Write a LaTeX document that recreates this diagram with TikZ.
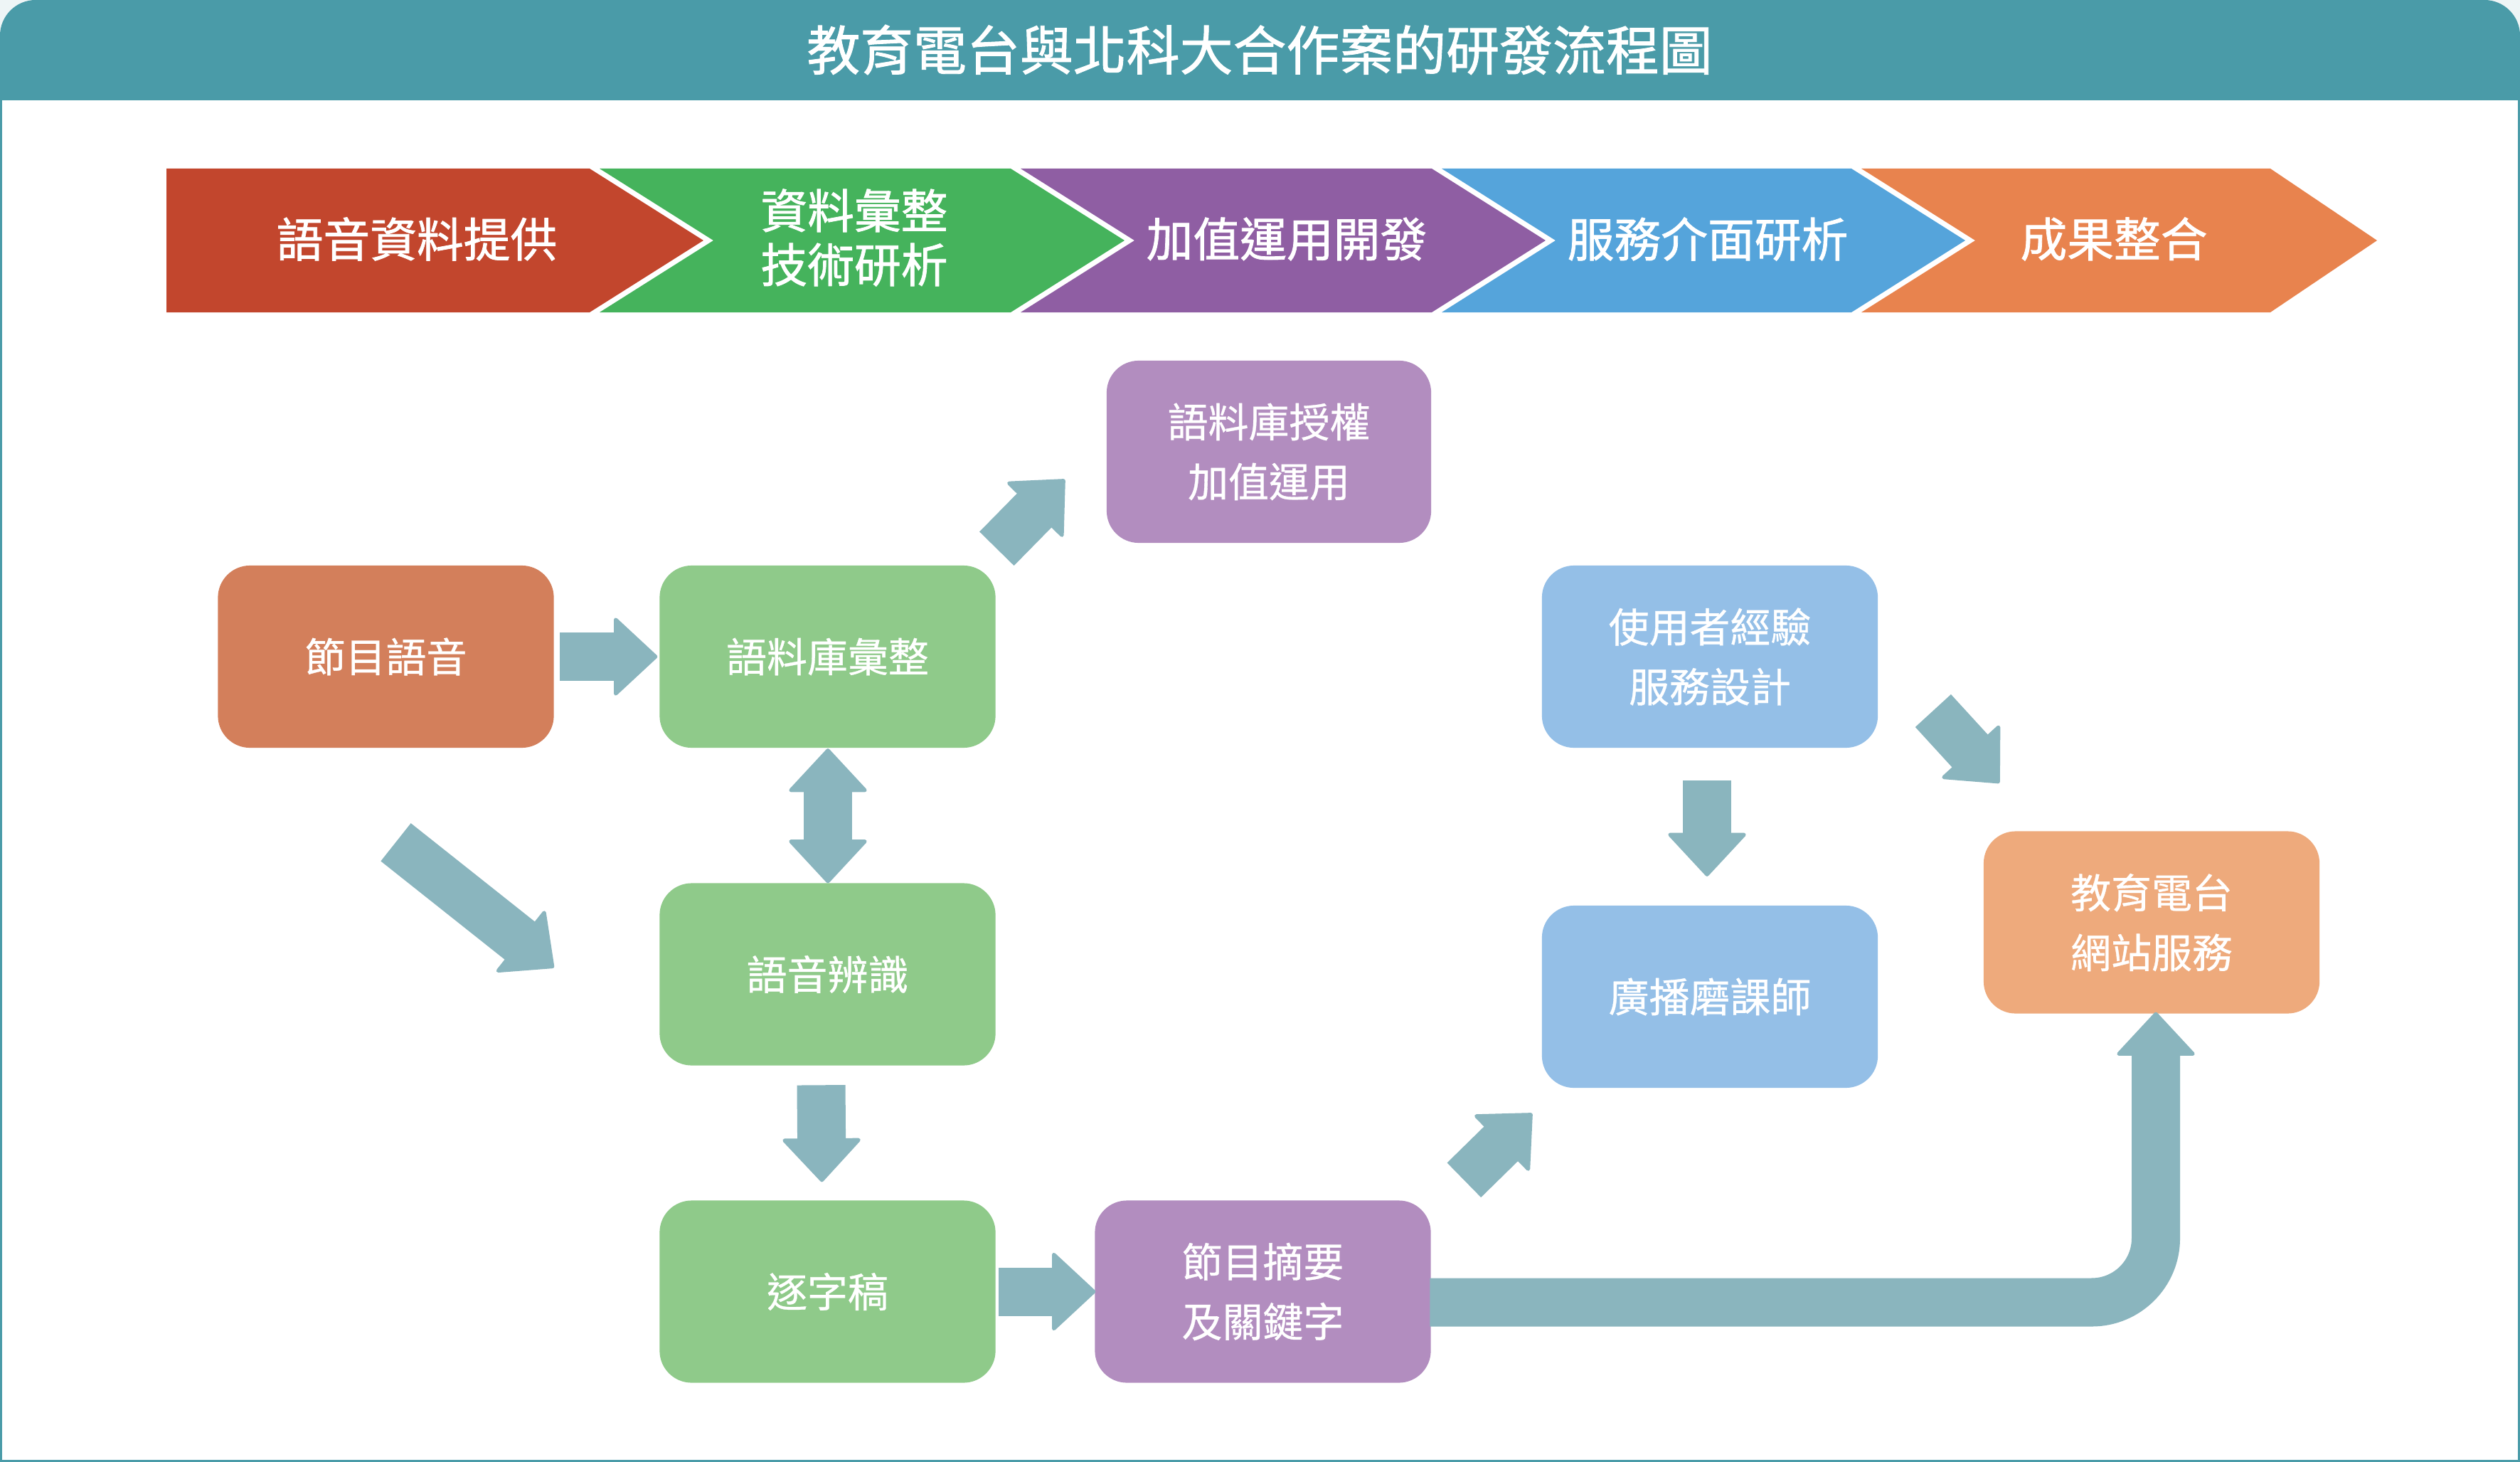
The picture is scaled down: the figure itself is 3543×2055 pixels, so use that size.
\documentclass[tikz,border=0pt]{standalone}
\usepackage{fontspec}
\newfontfamily\cjk[FakeBold=0.6]{Noto Sans CJK TC}
\newfontfamily\cjkb[FakeBold=1.2]{Noto Sans CJK TC}
\usetikzlibrary{calc}
\definecolor{hdr}{HTML}{4A9BA8}
\definecolor{cornerbg}{HTML}{EEF5F6}
\definecolor{cred}{HTML}{C2462D}
\definecolor{cgreen}{HTML}{45B35C}
\definecolor{cpurple}{HTML}{8F5EA3}
\definecolor{cblue}{HTML}{55A4DB}
\definecolor{corange}{HTML}{E8834E}
\definecolor{bxorange}{HTML}{D37F5B}
\definecolor{bxgreen}{HTML}{8FCA8A}
\definecolor{bxpurple}{HTML}{B28DBF}
\definecolor{bxblue}{HTML}{94BFE7}
\definecolor{bxpeach}{HTML}{EEAA7C}
\definecolor{arrowc}{HTML}{8AB5BE}
\newcommand\flowhead[2]{%
  \coordinate (hb) at ($(#2)!0.56cm!(#1)$);
  \fill[arrowc,draw=arrowc,line width=1.5pt,line join=round] (#2) -- ($(hb)!0.52cm!90:(#2)$) -- ($(hb)!0.52cm!-90:(#2)$) -- cycle;}
\newcommand\flowarrow[2]{%
  \coordinate (hb) at ($(#2)!0.56cm!(#1)$);
  \draw[arrowc, line width=0.68cm] (#1) -- ($(hb)!0.05cm!(#2)$);
  \flowhead{#1}{#2}}
\begin{document}
\begin{tikzpicture}[x=0.01cm,y=-0.01cm,
  box/.style={rounded corners=0.45cm, minimum width=4.72cm, minimum height=2.56cm, inner sep=0pt, text=white, align=center, font=\cjk\fontsize{16.2}{23.9}\selectfont},
  chev/.style={text=white, align=center, inner sep=0pt, font=\cjkb\fontsize{18.7}{21.6}\selectfont}]
\useasboundingbox (0,0) rectangle (3543,2055);
% background and frame
\fill[cornerbg] (0,0) rectangle (3543,2055);
\fill[white] (0,141) rectangle (3543,2055);
\fill[hdr,rounded corners=0.5cm] (0,141) -- (0,0) -- (3543,0) -- (3543,141);
\draw[hdr, line width=0.03cm] (1.5,141) -- (1.5,2053.5) -- (3541.5,2053.5) -- (3541.5,141);
\node[text=white, inner sep=0pt, font=\cjkb\fontsize{21.3}{26}\selectfont] (title) at (1771,70) {教育電台與北科大合作案的研發流程圖};
% chevrons
\fill[cred] (234,237) -- (829,237) -- (989,338) -- (829,439) -- (234,439) -- cycle;
\fill[cgreen] (843,237) -- (1421,237) -- (1581,338) -- (1421,439) -- (843,439) -- (1003,338) -- cycle;
\fill[cpurple] (1435,237) -- (2013,237) -- (2173,338) -- (2013,439) -- (1435,439) -- (1595,338) -- cycle;
\fill[cblue] (2027,237) -- (2603,237) -- (2763,338) -- (2603,439) -- (2027,439) -- (2187,338) -- cycle;
\fill[corange] (2617,237) -- (3192,237) -- (3342,338) -- (3192,439) -- (2617,439) -- (2777,338) -- cycle;
\node[chev] (p1) at (586,336) {語音資料提供};
\node[chev] (p2) at (1201,334) {資料彙整\\技術研析};
\node[chev] (p3) at (1809,336) {加值運用開發};
\node[chev] (p4) at (2401,336) {服務介面研析};
\node[chev] (p5) at (2972,336) {成果整合};
% boxes
\node[box, fill=bxorange] (b1) at (542.5,923) {節目語音};
\node[box, fill=bxgreen] (b2) at (1163.5,923) {語料庫彙整};
\node[box, fill=bxgreen] (b3) at (1163.5,1369.5) {語音辨識};
\node[box, fill=bxgreen] (b4) at (1163.5,1815.5) {逐字稿};
\node[box, fill=bxpurple, minimum width=4.56cm] (b5) at (1784,635) {語料庫授權\\加值運用};
\node[box, fill=bxpurple] (b6) at (1775.5,1815.5) {節目摘要\\及關鍵字};
\node[box, fill=bxblue] (b7) at (2404,923) {使用者經驗\\服務設計};
\node[box, fill=bxblue] (b8) at (2404,1401) {廣播磨課師};
\node[box, fill=bxpeach] (b9) at (3025,1296.5) {教育電台\\網站服務};
% arrow end points
\coordinate (a1s) at ($(b1.east)+(8,0)$);
\coordinate (a1t) at ($(b2.west)+(-5,0)$);
\coordinate (a2s) at ($(b2.north east)+(1,-23)$);
\coordinate (a2t) at ($(b5.south west)+(-60,-88)$);
\coordinate (a3s) at ($(b2.south)+(0.5,3)$);
\coordinate (a3t) at ($(b3.north)+(0.5,-2)$);
\coordinate (a4s) at ($(b1.south)+(14,132)$);
\coordinate (a4t) at ($(b3.west)+(-150,-11)$);
\coordinate (a5s) at ($(b3.south)+(-9,27)$);
\coordinate (a5t) at ($(b4.north)+(-8,-28)$);
\coordinate (a6s) at ($(b4.east)+(4,0)$);
\coordinate (a6t) at ($(b6.west)+(-1,0)$);
\coordinate (a7s) at ($(b6.north east)+(46,-28)$);
\coordinate (a7t) at ($(b8.south west)+(-15,37)$);
\coordinate (a8s) at ($(b7.south)+(-4,45)$);
\coordinate (a8t) at ($(b8.north)+(-4,-43)$);
\coordinate (a9s) at ($(b7.east)+(77,76)$);
\coordinate (a9t) at ($(b9.north west)+(21,-69)$);
\coordinate (a10s) at ($(b6.east)+(-2,15)$);
\coordinate (a10t) at ($(b9.south)+(6,0)$);
% arrows
\flowarrow{a1s}{a1t}
\flowarrow{a2s}{a2t}
\coordinate (hbA) at ($(a3t)!0.56cm!(a3s)$);
\coordinate (hbB) at ($(a3s)!0.56cm!(a3t)$);
\draw[arrowc, line width=0.68cm] ($(hbB)!-0.05cm!(a3t)$) -- ($(hbA)!-0.05cm!(a3s)$);
\flowhead{a3s}{a3t}
\flowhead{a3t}{a3s}
\flowarrow{a4s}{a4t}
\flowarrow{a5s}{a5t}
\flowarrow{a6s}{a6t}
\flowarrow{a7s}{a7t}
\flowarrow{a8s}{a8t}
\flowarrow{a9s}{a9t}
\coordinate (hbC) at ($(a10t)+(0,51)$);
\coordinate (hbD) at ($(a10t)+(0,200)$);
\draw[arrowc, line width=0.68cm, rounded corners=0.9cm] (a10s) -| (hbC);
\flowhead{hbD}{a10t}
\end{tikzpicture}
\end{document}
